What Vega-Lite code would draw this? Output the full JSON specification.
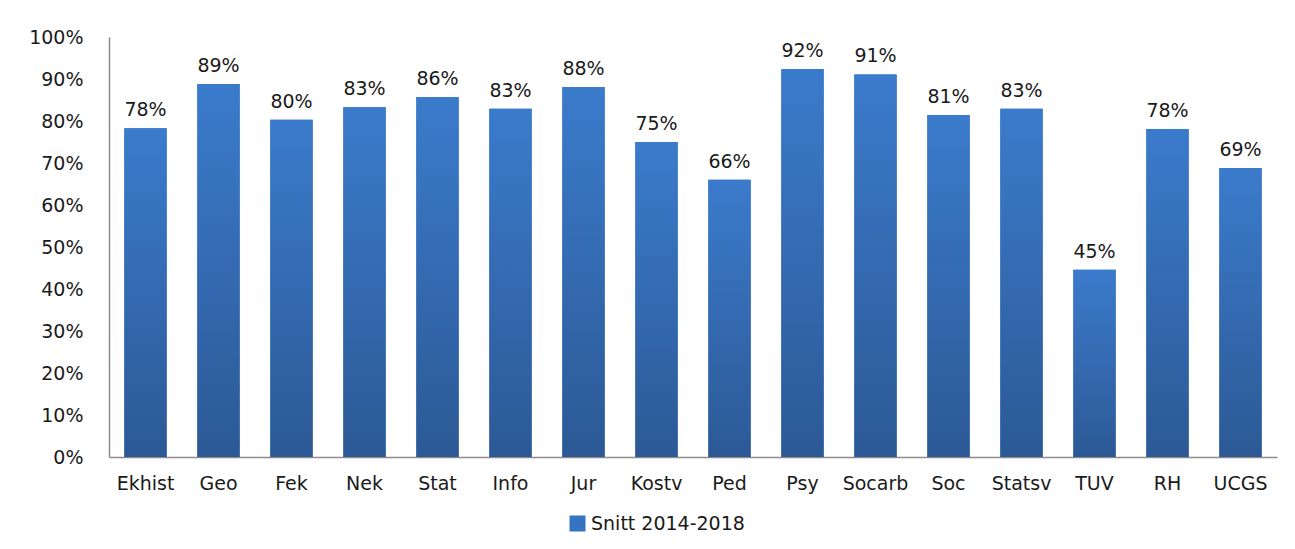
{
  "$schema": "https://vega.github.io/schema/vega-lite/v6.json",
  "autosize": {"type": "none"},
  "padding": {"left": 109, "top": 37, "right": 18, "bottom": 92},
  "width": 1168,
  "height": 420,
  "background": "white",
  "config": {
    "view": {"stroke": null},
    "font": "DejaVu Sans",
    "axis": {"labelFont": "DejaVu Sans", "labelFontSize": 19, "labelColor": "#1a1a1a", "grid": false, "ticks": false, "domainColor": "#8c8c8c", "domainWidth": 1.5}
  },
  "data": {
    "values": [
      {"kategori": "Ekhist", "andel": 0.783, "serie": "Snitt 2014-2018"},
      {"kategori": "Geo", "andel": 0.888, "serie": "Snitt 2014-2018"},
      {"kategori": "Fek", "andel": 0.803, "serie": "Snitt 2014-2018"},
      {"kategori": "Nek", "andel": 0.833, "serie": "Snitt 2014-2018"},
      {"kategori": "Stat", "andel": 0.857, "serie": "Snitt 2014-2018"},
      {"kategori": "Info", "andel": 0.829, "serie": "Snitt 2014-2018"},
      {"kategori": "Jur", "andel": 0.881, "serie": "Snitt 2014-2018"},
      {"kategori": "Kostv", "andel": 0.75, "serie": "Snitt 2014-2018"},
      {"kategori": "Ped", "andel": 0.66, "serie": "Snitt 2014-2018"},
      {"kategori": "Psy", "andel": 0.924, "serie": "Snitt 2014-2018"},
      {"kategori": "Socarb", "andel": 0.911, "serie": "Snitt 2014-2018"},
      {"kategori": "Soc", "andel": 0.814, "serie": "Snitt 2014-2018"},
      {"kategori": "Statsv", "andel": 0.829, "serie": "Snitt 2014-2018"},
      {"kategori": "TUV", "andel": 0.446, "serie": "Snitt 2014-2018"},
      {"kategori": "RH", "andel": 0.781, "serie": "Snitt 2014-2018"},
      {"kategori": "UCGS", "andel": 0.688, "serie": "Snitt 2014-2018"}
    ]
  },
  "encoding": {
    "x": {"field": "kategori", "type": "nominal", "sort": null, "title": null,
      "scale": {"paddingInner": 0.42, "paddingOuter": 0.21},
      "axis": {"labelAngle": 0, "labelPadding": 17}},
    "y": {"field": "andel", "type": "quantitative", "title": null,
      "scale": {"domain": [0, 1], "nice": false},
      "axis": {"values": [0, 0.1, 0.2, 0.3, 0.4, 0.5, 0.6, 0.7, 0.8, 0.9, 1], "format": ".0%", "labelPadding": 26}}
  },
  "layer": [
    {
      "mark": {"type": "bar"},
      "encoding": {
        "color": {"field": "serie", "type": "nominal", "scale": {"range": ["#3673c2"]},
          "legend": {"title": null, "orient": "none", "legendX": 459, "legendY": 477, "direction": "horizontal",
            "symbolType": "square", "symbolSize": 256, "symbolStrokeWidth": 0, "labelFontSize": 19, "labelFont": "DejaVu Sans", "labelColor": "#1a1a1a", "labelOffset": 4}}
      }
    },
    {
      "mark": {"type": "bar", "fill": {"gradient": "linear", "x1": 0, "y1": 0, "x2": 0, "y2": 1,
        "stops": [{"offset": 0, "color": "#3b7bcc"}, {"offset": 1, "color": "#2c5995"}]}}
    },
    {
      "mark": {"type": "text", "baseline": "bottom", "dy": -8, "fontSize": 19, "font": "DejaVu Sans", "color": "#1a1a1a"},
      "encoding": {"text": {"field": "andel", "type": "quantitative", "format": ".0%"}}
    }
  ]
}
